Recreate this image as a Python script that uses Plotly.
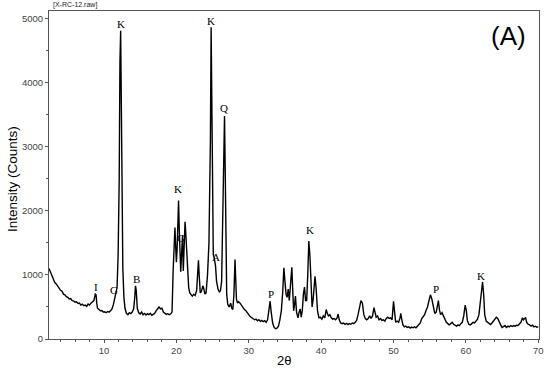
import plotly.graph_objects as go

tth = [2.4, 2.6, 2.8, 3.0, 3.2, 3.4, 3.6, 3.8, 4.0, 4.2, 4.4, 4.6, 4.8, 5.0, 5.2, 5.4, 5.6, 5.8, 6.0, 6.2,
       6.4, 6.6, 6.8, 7.0, 7.2, 7.4, 7.6, 7.8, 8.0, 8.2, 8.4, 8.6, 8.8, 8.9, 9.0, 9.1, 9.3, 9.5, 9.7, 9.9,
       10.1, 10.3, 10.5, 10.7, 10.9, 11.1, 11.3, 11.5, 11.6, 11.8, 11.95, 12.1, 12.2, 12.3, 12.4, 12.5, 12.6, 12.75, 12.9, 13.1,
       13.3, 13.5, 13.7, 13.9, 14.1, 14.25, 14.35, 14.45, 14.6, 14.8, 15.0, 15.2, 15.4, 15.6, 15.8, 16.0, 16.2, 16.4, 16.6, 16.8,
       17.0, 17.2, 17.4, 17.6, 17.8, 18.0, 18.2, 18.4, 18.6, 18.8, 19.0, 19.2, 19.4, 19.55, 19.7, 19.8, 19.9, 20.0, 20.1, 20.2,
       20.3, 20.4, 20.5, 20.6, 20.75, 20.85, 20.95, 21.05, 21.2, 21.3, 21.4, 21.55, 21.7, 21.85, 22.0, 22.2, 22.4, 22.6, 22.8, 22.95,
       23.05, 23.15, 23.3, 23.45, 23.65, 23.75, 23.95, 24.1, 24.3, 24.5, 24.6, 24.7, 24.8, 24.9, 25.0, 25.1, 25.25, 25.4, 25.55, 25.75,
       25.95, 26.1, 26.25, 26.4, 26.55, 26.65, 26.75, 26.85, 26.95, 27.1, 27.3, 27.5, 27.65, 27.8, 27.95, 28.1, 28.2, 28.3, 28.45, 28.6,
       28.8, 29.0, 29.2, 29.4, 29.6, 29.8, 30.0, 30.2, 30.4, 30.6, 30.8, 31.0, 31.2, 31.4, 31.6, 31.8, 32.0, 32.2, 32.4, 32.6,
       32.8, 32.95, 33.1, 33.3, 33.5, 33.7, 33.9, 34.1, 34.3, 34.5, 34.7, 34.85, 35.0, 35.15, 35.3, 35.45, 35.6, 35.75, 35.95, 36.1,
       36.2, 36.35, 36.45, 36.6, 36.8, 36.95, 37.1, 37.25, 37.4, 37.55, 37.7, 37.85, 38.0, 38.15, 38.3, 38.45, 38.6, 38.75, 38.9, 39.05,
       39.15, 39.3, 39.5, 39.7, 39.9, 40.1, 40.3, 40.5, 40.7, 40.85, 41.0, 41.2, 41.4, 41.6, 41.8, 42.0, 42.2, 42.35, 42.5, 42.7,
       42.9, 43.1, 43.3, 43.5, 43.7, 43.9, 44.1, 44.3, 44.5, 44.7, 44.9, 45.1, 45.3, 45.5, 45.7, 45.9, 46.1, 46.3, 46.5, 46.7,
       46.9, 47.1, 47.3, 47.45, 47.6, 47.8, 48.0, 48.2, 48.4, 48.6, 48.8, 49.0, 49.2, 49.4, 49.6, 49.8, 50.0, 50.15, 50.3, 50.5,
       50.7, 50.9, 51.0, 51.15, 51.3, 51.5, 51.7, 51.9, 52.1, 52.3, 52.5, 52.7, 52.9, 53.1, 53.3, 53.5, 53.7, 53.9, 54.1, 54.3,
       54.5, 54.7, 54.9, 55.1, 55.3, 55.5, 55.7, 55.9, 56.1, 56.2, 56.35, 56.5, 56.7, 56.9, 57.1, 57.3, 57.5, 57.7, 57.9, 58.1,
       58.3, 58.5, 58.7, 58.9, 59.1, 59.3, 59.5, 59.7, 59.9, 60.05, 60.2, 60.4, 60.6, 60.8, 61.0, 61.2, 61.4, 61.6, 61.8, 62.0,
       62.15, 62.3, 62.45, 62.6, 62.8, 63.0, 63.2, 63.4, 63.6, 63.8, 64.0, 64.2, 64.4, 64.6, 64.8, 65.0, 65.2, 65.4, 65.6, 65.8,
       66.0, 66.2, 66.4, 66.6, 66.8, 67.0, 67.2, 67.4, 67.6, 67.8, 67.95, 68.1, 68.25, 68.4, 68.6, 68.8, 69.0, 69.2, 69.4, 69.6,
       69.8, 70.0]
counts = [1100, 1040, 985, 940, 880, 860, 820, 800, 760, 745, 700, 690, 660, 650, 625, 630, 600, 595, 575, 580,
          555, 560, 530, 545, 520, 530, 510, 545, 530, 560, 580, 600, 700, 690, 560, 480, 460, 440, 445, 420,
          425, 410, 430, 420, 440, 470, 540, 640, 650, 800, 1300, 2500, 4300, 4810, 3600, 2000, 1100, 650, 480, 400,
          380, 410, 395, 420, 470, 650, 830, 760, 480, 410, 390, 420, 380, 400, 375, 395, 380, 400, 370, 385,
          400, 440, 480, 500, 470, 480, 420, 400, 385, 395, 380, 390, 420, 1060, 1550, 1740, 1450, 1200, 1400, 1900,
          2160, 1700, 1150, 1050, 1400, 1620, 1060, 1300, 1830, 1650, 1400, 1100, 800, 720, 690, 670, 700, 680, 760, 1100,
          1230, 1000, 720, 740, 830, 800, 700, 720, 1000, 1500, 2200, 3100, 4865, 3800, 1800, 1320, 1250, 1150, 900, 780,
          730, 760, 900, 1700, 3000, 3480, 2600, 1300, 700, 540, 500, 560, 480, 460, 700, 1240, 1000, 620, 560, 580,
          560, 520, 490, 460, 440, 400, 380, 350, 330, 320, 300, 310, 285, 300, 275, 290, 270, 285, 260, 300,
          450, 590, 420, 250, 180, 160, 170, 200, 300, 440, 750, 1110, 900, 700, 650, 780, 600, 800, 1120, 700,
          440, 560, 670, 420, 330, 420, 470, 340, 450, 700, 810, 600, 600, 1000, 1530, 1300, 700, 500, 620, 900,
          980, 800, 440, 330, 340, 310, 360, 330, 460, 400, 360, 380, 330, 310, 320, 300, 330, 390, 300, 250,
          240, 250, 230, 245, 225, 240, 230, 250, 240, 260, 290, 380, 520, 600, 560, 380, 320, 300, 320, 360,
          320, 360, 490, 420, 340, 360, 300, 320, 290, 300, 280, 320, 340, 320, 330, 300, 590, 420, 260, 280,
          260, 330, 400, 300, 220, 190, 200, 180, 190, 170, 185, 175, 190, 175, 200, 215, 250, 320, 350, 380,
          450, 500, 600, 690, 620, 480, 400, 420, 520, 600, 450, 380, 410, 360, 300, 260, 240, 220, 240, 260,
          230, 210, 200, 220, 210, 240, 260, 360, 530, 450, 290, 230, 220, 240, 260, 250, 290, 310, 380, 600,
          820, 890, 700, 380, 280, 260, 240, 225, 250, 280, 310, 340, 320, 260, 220, 180, 200, 210, 180, 200,
          190, 210, 195, 210, 200, 215, 210, 230, 260, 330, 300, 320, 330, 260, 230, 220, 200, 215, 190, 200,
          185, 190]

# phase labels
lab_text = ["I", "G", "K", "B", "K", "G", "K", "A", "Q", "P", "K", "P", "K"]
lab_x = [8.9, 11.4, 12.35, 14.5, 20.25, 20.7, 24.75, 25.5, 26.6, 33.1, 38.4, 55.9, 62.1]
lab_y = [812, 766, 4917, 932, 2339, 1583, 4960, 1281, 3599, 708, 1703, 786, 984]

fig = go.Figure()
fig.add_trace(go.Scatter(x=tth, y=counts, mode='lines',
                         line=dict(color='black', width=1.4), showlegend=False))

for t, x, y in zip(lab_text, lab_x, lab_y):
    fig.add_annotation(x=x, y=y, text=t, showarrow=False,
                       font=dict(family='Liberation Serif', size=11, color='black'))

# header, panel letter and axis titles
fig.add_annotation(xref='paper', yref='paper', x=0.004, y=1.018, xanchor='left', yanchor='middle',
                   text='[X-RC-12.raw]', showarrow=False,
                   font=dict(family='Liberation Sans', size=7, color='#222'))
fig.add_annotation(xref='paper', yref='paper', x=0.978, y=0.925, xanchor='right', yanchor='middle',
                   text='(A)', showarrow=False,
                   font=dict(family='Liberation Sans', size=26, color='black'))
fig.add_annotation(xref='paper', yref='paper', x=-0.0745, y=0.489, xanchor='center', yanchor='middle',
                   text='Intensity (Counts)', textangle=-90, showarrow=False,
                   font=dict(family='Liberation Sans', size=13.5, color='black'))
fig.add_annotation(xref='paper', yref='paper', x=0.4786, y=-0.067, xanchor='center', yanchor='middle',
                   text='2θ', showarrow=False,
                   font=dict(family='Liberation Sans', size=13, color='black'))

axis_style = dict(showline=True, linecolor='#555', linewidth=1, mirror=True, automargin=False,
                  ticks='outside', tickcolor='#555', ticklen=3, showgrid=False, zeroline=False,
                  tickfont=dict(family='Liberation Sans', size=9.5, color='#444'))

fig.update_xaxes(range=[2.4, 70.1], dtick=10, tick0=0,
                 minor=dict(dtick=2, ticks='outside', ticklen=2, tickcolor='#555'),
                 **axis_style)
fig.update_yaxes(range=[0, 5120], dtick=1000,
                 minor=dict(dtick=500, ticks='outside', ticklen=2, tickcolor='#555'),
                 **axis_style)

fig.update_layout(width=550, height=372, margin=dict(l=49, r=11, t=11, b=33),
                  plot_bgcolor='white', paper_bgcolor='white')

fig.write_html("out.html", config={'displayModeBar': False},
               post_script="document.body.style.margin='0px';")
